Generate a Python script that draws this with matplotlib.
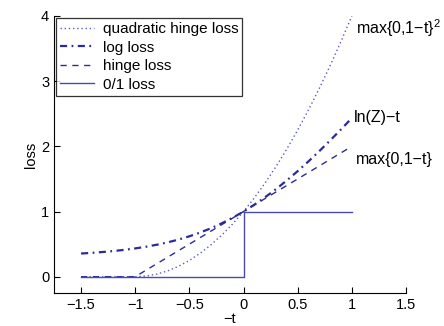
import matplotlib
matplotlib.use("Agg")
import matplotlib.pyplot as plt

plt.rcParams['font.family'] = ['Liberation Sans', 'DejaVu Sans']
plt.rcParams['mathtext.fontset'] = 'custom'
plt.rcParams['mathtext.rm'] = 'Liberation Sans'

# x = -t, sampled every 0.1 from -1.5 to 1.0
xs = [-1.5, -1.4, -1.3, -1.2, -1.1, -1.0, -0.9, -0.8, -0.7, -0.6, -0.5, -0.4, -0.3,
      -0.2, -0.1, 0.0, 0.1, 0.2, 0.3, 0.4, 0.5, 0.6, 0.7, 0.8, 0.9, 1.0]
quad_hinge = [0, 0, 0, 0, 0, 0, 0.01, 0.04, 0.09, 0.16, 0.25, 0.36, 0.49,
              0.64, 0.81, 1.00, 1.21, 1.44, 1.69, 1.96, 2.25, 2.56, 2.89, 3.24, 3.61, 4.00]
log_loss = [0.356, 0.366, 0.379, 0.394, 0.412, 0.434, 0.460, 0.491, 0.527, 0.570, 0.620,
            0.678, 0.744, 0.820, 0.905, 1.000, 1.105, 1.220, 1.344, 1.478, 1.620, 1.770,
            1.927, 2.091, 2.260, 2.434]
hinge_x = [-1.5, -1.0, 1.0]
hinge_y = [0, 0, 2]
zero_one_x = [-1.5, 0, 0, 1]
zero_one_y = [0, 0, 1, 1]

labels = ["quadratic hinge loss", "log loss", "hinge loss", "0/1 loss"]
notes = ["max{0,1\u2212t}$^\\mathrm{2}$", "ln(Z)\u2212t", "max{0,1\u2212t}"]
note_pos = [(1.04, 3.82), (1.02, 2.44), (1.04, 1.80)]

col = '#2b2b99'

fig = plt.figure(figsize=(4.44, 3.26), dpi=100)
ax = fig.add_axes([0.1216, 0.1012, 0.7928, 0.8498])

ax.plot(xs, quad_hinge, linestyle=(0, (1, 2)), color='#5a5ac0', lw=1.0, label=labels[0])
ax.plot(xs, log_loss, linestyle=(0, (3.2, 2, 0.8, 2)), color=col, lw=1.6, label=labels[1])
ax.plot(hinge_x, hinge_y, linestyle=(0, (4.5, 4)), color=col, lw=1.0, label=labels[2])
ax.plot(zero_one_x, zero_one_y, linestyle='-', color='#4a4ab0', lw=1.0, label=labels[3])

for txt, (px, py) in zip(notes, note_pos):
    ax.text(px, py, txt, fontsize=11.5, va='center', ha='left')

ax.set_xlim(-1.75, 1.5)
ax.set_ylim(-0.25, 4)
ax.set_xticks([-1.5, -1, -0.5, 0, 0.5, 1, 1.5])
ax.set_xticklabels(["\u22121.5", "\u22121", "\u22120.5", "0", "0.5", "1", "1.5"])
ax.set_yticks([0, 1, 2, 3, 4])
ax.tick_params(direction='in', length=4, labelsize=10.5, width=0.8)
ax.spines['top'].set_visible(False)
ax.spines['right'].set_visible(False)
ax.set_xlabel("\u2212t", fontsize=10.5, labelpad=0)
ax.set_ylabel("loss", fontsize=10.5, labelpad=2)

leg = ax.legend(loc='upper left', fontsize=11, frameon=True, fancybox=False,
                borderaxespad=0.15, handlelength=2.2, handletextpad=0.6,
                labelspacing=0.3, borderpad=0.25)
leg.get_frame().set_edgecolor('black')
leg.get_frame().set_linewidth(0.9)

fig.savefig("out.png", dpi=100)
